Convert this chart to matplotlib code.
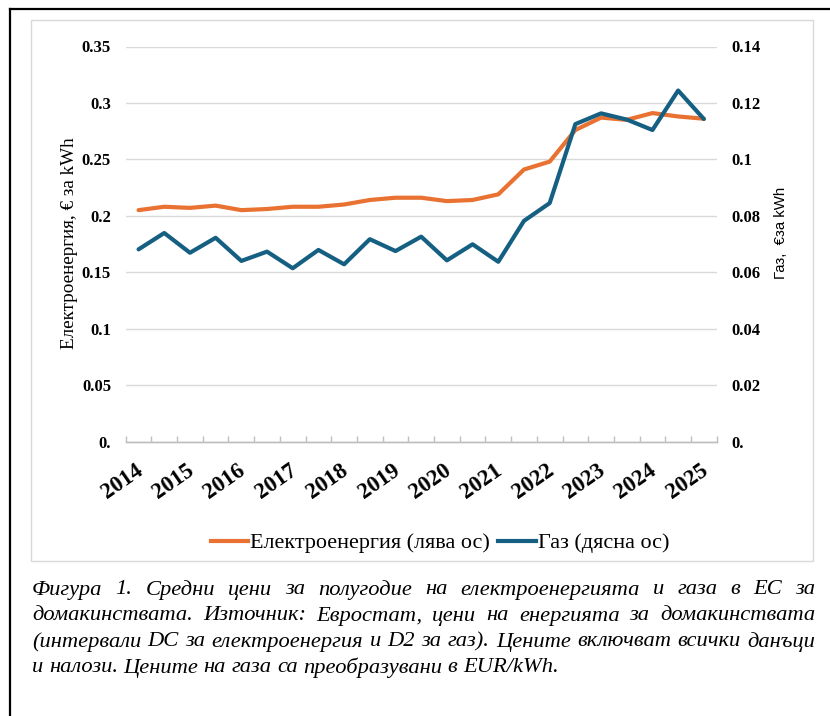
import matplotlib
matplotlib.use('Agg')
import matplotlib.pyplot as plt
from matplotlib.lines import Line2D
from matplotlib.patches import Rectangle
import matplotlib.ticker as mtick
import matplotlib.transforms as mtrans

plt.rcParams['font.family'] = ['Liberation Serif', 'DejaVu Serif']

# semi-annual data, 2014S1 .. 2025S1
periods = [f'{y}S{h}' for y in range(2014, 2026) for h in (1, 2)][:23]
year_labels = [str(y) for y in range(2014, 2026)]

electricity = [0.205, 0.208, 0.207, 0.209, 0.205, 0.206, 0.208, 0.208, 0.210,
               0.214, 0.216, 0.216, 0.213, 0.214, 0.219, 0.241, 0.248, 0.276,
               0.287, 0.285, 0.291, 0.288, 0.286]
gas = [0.0681, 0.0739, 0.0669, 0.0722, 0.0640, 0.0673, 0.0614, 0.0679, 0.0628,
       0.0717, 0.0675, 0.0726, 0.0642, 0.0699, 0.0637, 0.0782, 0.0845, 0.1125,
       0.1163, 0.1141, 0.1104, 0.1244, 0.1143]

left_ticks = [0, 0.05, 0.1, 0.15, 0.2, 0.25, 0.3, 0.35]
left_ticklabels = ['0.', '0.05', '0.1', '0.15', '0.2', '0.25', '0.3', '0.35']
right_ticks = [0, 0.02, 0.04, 0.06, 0.08, 0.1, 0.12, 0.14]
right_ticklabels = ['0.', '0.02', '0.04', '0.06', '0.08', '0.1', '0.12', '0.14']

caption_lines = [
    'Фигура 1. Средни цени за полугодие на електроенергията и газа в ЕС за',
    'домакинствата. Източник: Евростат, цени на енергията за домакинствата',
    '(интервали DC за електроенергия и D2 за газ). Цените включват всички данъци',
    'и налози. Цените на газа са преобразувани в EUR/kWh.',
]

c_el = '#E97132'
c_gas = '#156082'
grid_c = '#D9D9D9'
axis_c = '#BFBFBF'
cap_size = 16.2

W, H = 830, 716
fig = plt.figure(figsize=(W / 100, H / 100), dpi=100)
fig.patch.set_facecolor('white')

# outer frame (black) and chart area frame (light gray)
fig.add_artist(Line2D([10 / W, 1], [1 - 9 / H, 1 - 9 / H], color='black', lw=1.6, transform=fig.transFigure))
fig.add_artist(Line2D([10 / W, 10 / W], [0, 1 - 9 / H], color='black', lw=1.6, transform=fig.transFigure))
fig.add_artist(Rectangle((31 / W, 1 - 560.7 / H), (812.7 - 31) / W, (560.7 - 20) / H,
                         fill=False, edgecolor=grid_c, lw=1, transform=fig.transFigure))

left, right, top, bottom = 125.7, 716.7, 46.5, 441.5
ax = fig.add_axes([left / W, 1 - bottom / H, (right - left) / W, (bottom - top) / H])
ax2 = ax.twinx()

x = list(range(len(periods)))
ax.plot(x, electricity, color=c_el, lw=3, solid_capstyle='round', solid_joinstyle='round', zorder=3)
ax2.plot(x, gas, color=c_gas, lw=3, solid_capstyle='round', solid_joinstyle='round', zorder=3)

ax.set_xlim(-0.5, len(periods) - 0.5)
ax.set_ylim(0, 0.35)
ax2.set_ylim(0, 0.14)

ax.set_yticks(left_ticks)
ax.set_yticklabels(left_ticklabels, fontsize=12, fontweight='bold')
ax2.set_yticks(right_ticks)
ax2.set_yticklabels(right_ticklabels, fontsize=12, fontweight='bold')
ax.tick_params(axis='y', length=0, pad=10.5)
ax2.tick_params(axis='y', length=0, pad=10.5)

ax.yaxis.grid(True, color=grid_c, lw=1)
ax.set_axisbelow(True)

for a in (ax, ax2):
    for s in ('top', 'left', 'right'):
        a.spines[s].set_visible(False)
    a.spines['bottom'].set_color(axis_c)
    a.spines['bottom'].set_linewidth(1)

# x axis: labels every year, tick marks between half-years
ax.set_xticks(x[::2])
ax.set_xticklabels(year_labels, fontsize=16.3, fontweight='bold', rotation=35,
                   ha='right', va='top', rotation_mode='anchor')
ax.tick_params(axis='x', which='major', length=0, pad=13)
shift = mtrans.ScaledTranslation(-4 / 100, 0, fig.dpi_scale_trans)
for lbl in ax.get_xticklabels():
    lbl.set_transform(lbl.get_transform() + shift)
ax.xaxis.set_minor_locator(mtick.FixedLocator([i - 0.5 for i in range(len(periods) + 1)]))
ax.tick_params(axis='x', which='minor', direction='in', length=4.5, color=axis_c, width=1)

ax.set_ylabel('Електроенергия, € за kWh', fontsize=13.8)
ax.yaxis.set_label_coords((78 - left) / (right - left), (bottom - 243) / (bottom - top))
ax2.set_ylabel('Газ,  €за kWh', fontsize=10.8, family=['Liberation Sans', 'DejaVu Sans'])
ax2.yaxis.set_label_coords((774 - left) / (right - left), (bottom - 233) / (bottom - top))

handles = [Line2D([], [], color=c_el, lw=3), Line2D([], [], color=c_gas, lw=3)]
fig.legend(handles, ['Електроенергия (лява ос)', 'Газ (дясна ос)'], loc='center',
           bbox_to_anchor=(440 / W, 1 - 543 / H), ncol=2, frameon=False, fontsize=15.9,
           handlelength=1.7, handletextpad=0.1, columnspacing=0.35)

# justified caption
renderer = fig.canvas.get_renderer()
x0, x1 = 32, 815
line_y = [590, 616, 642, 668]
for i, (line, yy) in enumerate(zip(caption_lines, line_y)):
    words = line.split(' ')
    texts = [fig.text(0, 1 - yy / H, w, fontsize=cap_size, style='italic', va='center', ha='left')
             for w in words]
    widths = [t.get_window_extent(renderer).width for t in texts]
    if i < len(caption_lines) - 1:
        gap = (x1 - x0 - sum(widths)) / (len(words) - 1)
    else:
        gap = 5.5
    pos = x0
    for t, w in zip(texts, widths):
        t.set_x(pos / W)
        pos += w + gap

fig.savefig('out.png', dpi=100)
